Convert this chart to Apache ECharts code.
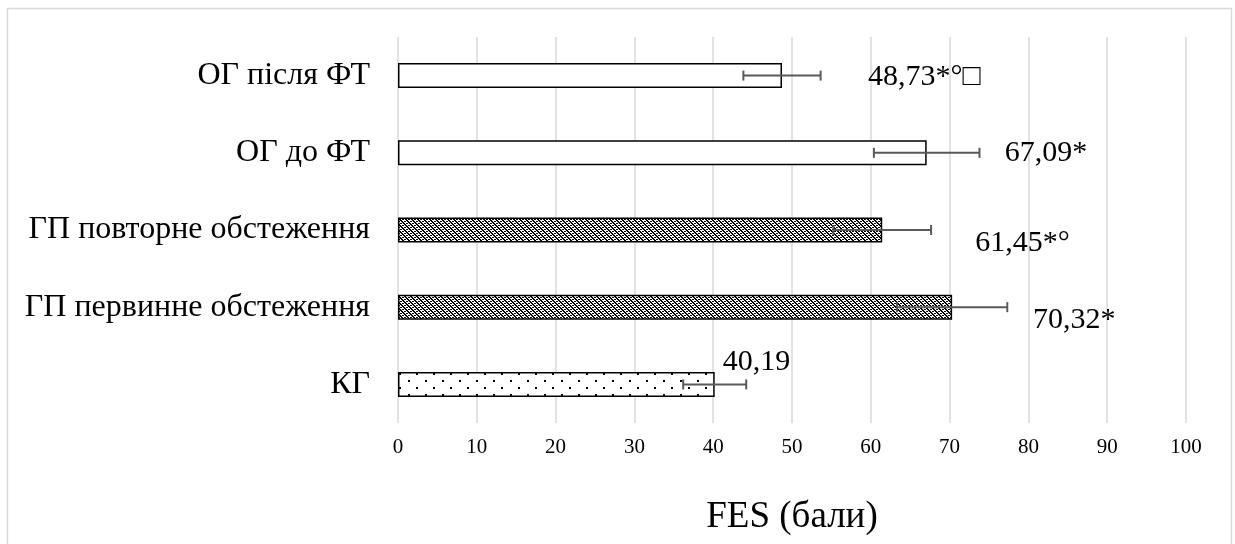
<!DOCTYPE html>
<html>
<head>
<meta charset="utf-8">
<script src="https://cdn.jsdelivr.net/npm/echarts@6/dist/echarts.min.js"></script>
<style>
  html, body { margin: 0; padding: 0; background: #fff; }
  #chart { width: 1235px; height: 544px; }
</style>
</head>
<body>
<div id="chart"></div>
<script>
// categories bottom -> top (category yAxis draws the first one at the bottom)
const categories = ['КГ', 'ГП первинне обстеження', 'ГП повторне обстеження', 'ОГ до ФТ', 'ОГ після ФТ']
const means = [40.19, 70.32, 61.45, 67.09, 48.73]
const errors = [4.0, 7.0, 6.2, 6.7, 4.9]
const labelTexts = ['40,19', '70,32*', '61,45*°', '67,09*', '48,73*°□']
const fillKinds = ['dots', 'hatch', 'hatch', 'plain', 'plain']
const xTicks = [0, 10, 20, 30, 40, 50, 60, 70, 80, 90, 100]

const FONT = '"Liberation Serif", "Times New Roman", serif'

function makePattern(kind) {
  const c = document.createElement('canvas')
  const ctx = c.getContext('2d')
  if (kind === 'hatch') {
    c.width = 6; c.height = 6
    ctx.fillStyle = '#fff'
    ctx.fillRect(0, 0, 6, 6)
    ctx.fillStyle = '#000'
    for (let y = 0; y < 6; y++) {
      for (let x = 0; x < 6; x++) {
        const d = ((x - y) % 6 + 6) % 6
        if (d < 2) ctx.fillRect(x, y, 1, 1)
        if (d === 3 && x % 2 === 0) ctx.fillRect(x, y, 1, 1)
        if (d === 4 && x % 2 === 1) ctx.fillRect(x, y, 1, 1)
      }
    }
  } else {
    c.width = 17; c.height = 14
    ctx.fillStyle = '#fff'
    ctx.fillRect(0, 0, 17, 14)
    ctx.fillStyle = '#000'
    ctx.fillRect(0, 2, 2, 2)
    ctx.fillRect(8, 9, 2, 2)
  }
  return { image: c, repeat: 'repeat' }
}

// label offsets as placed in the original (manually moved labels)
const labelOffsets = [[8, -22], [81, 13], [93, 13], [78, 0], [86, 2]]

const barData = means.map((v, i) => ({
  value: v,
  itemStyle: {
    color: fillKinds[i] === 'plain' ? '#fff' : makePattern(fillKinds[i])
  },
  label: { offset: labelOffsets[i] }
}))

const errData = means.map((v, i) => [v, i, errors[i]])

const chart = echarts.init(document.getElementById('chart'))

chart.setOption({
  animation: false,
  backgroundColor: '#fff',
  graphic: [{
    type: 'rect',
    shape: { x: 7.5, y: 8.5, width: 1224, height: 600 },
    style: { fill: 'none', stroke: '#d9d9d9', lineWidth: 1.5 },
    silent: true
  }],
  grid: { left: 398, right: 49, top: 37, bottom: 121 },
  xAxis: {
    type: 'value',
    min: 0,
    max: 100,
    interval: 10,
    axisLine: { show: false },
    axisTick: { show: false },
    splitLine: { lineStyle: { color: '#d9d9d9', width: 1.5 } },
    axisLabel: {
      color: '#000',
      fontFamily: FONT,
      fontSize: 21,
      margin: 14,
      formatter: (v) => xTicks.includes(v) ? String(v) : ''
    },
    name: 'FES (бали)',
    nameLocation: 'middle',
    nameGap: 76,
    nameTextStyle: { color: '#000', fontFamily: FONT, fontSize: 37 }
  },
  yAxis: {
    type: 'category',
    data: categories,
    axisLine: { show: false },
    axisTick: { show: false },
    axisLabel: {
      color: '#000',
      fontFamily: FONT,
      fontSize: 32,
      margin: 28
    }
  },
  series: [
    {
      type: 'bar',
      data: barData,
      barWidth: 25,
      itemStyle: { borderColor: '#000', borderWidth: 1.5 },
      label: {
        show: true,
        position: 'right',
        distance: 0,
        color: '#000',
        fontFamily: FONT,
        fontSize: 30,
        formatter: (p) => labelTexts[p.dataIndex]
      }
    },
    {
      type: 'custom',
      data: errData,
      encode: { x: 0, y: 1 },
      z: 5,
      renderItem: function (params, api) {
        const v = api.value(0)
        const c = api.value(1)
        const e = api.value(2)
        const lo = api.coord([v - e, c])
        const hi = api.coord([v + e, c])
        const h = 5
        const style = { stroke: '#595959', lineWidth: 2 }
        return {
          type: 'group',
          children: [
            { type: 'line', shape: { x1: lo[0], y1: lo[1], x2: hi[0], y2: hi[1] }, style },
            { type: 'line', shape: { x1: lo[0], y1: lo[1] - h, x2: lo[0], y2: lo[1] + h }, style },
            { type: 'line', shape: { x1: hi[0], y1: hi[1] - h, x2: hi[0], y2: hi[1] + h }, style }
          ]
        }
      }
    }
  ]
})
</script>
</body>
</html>
